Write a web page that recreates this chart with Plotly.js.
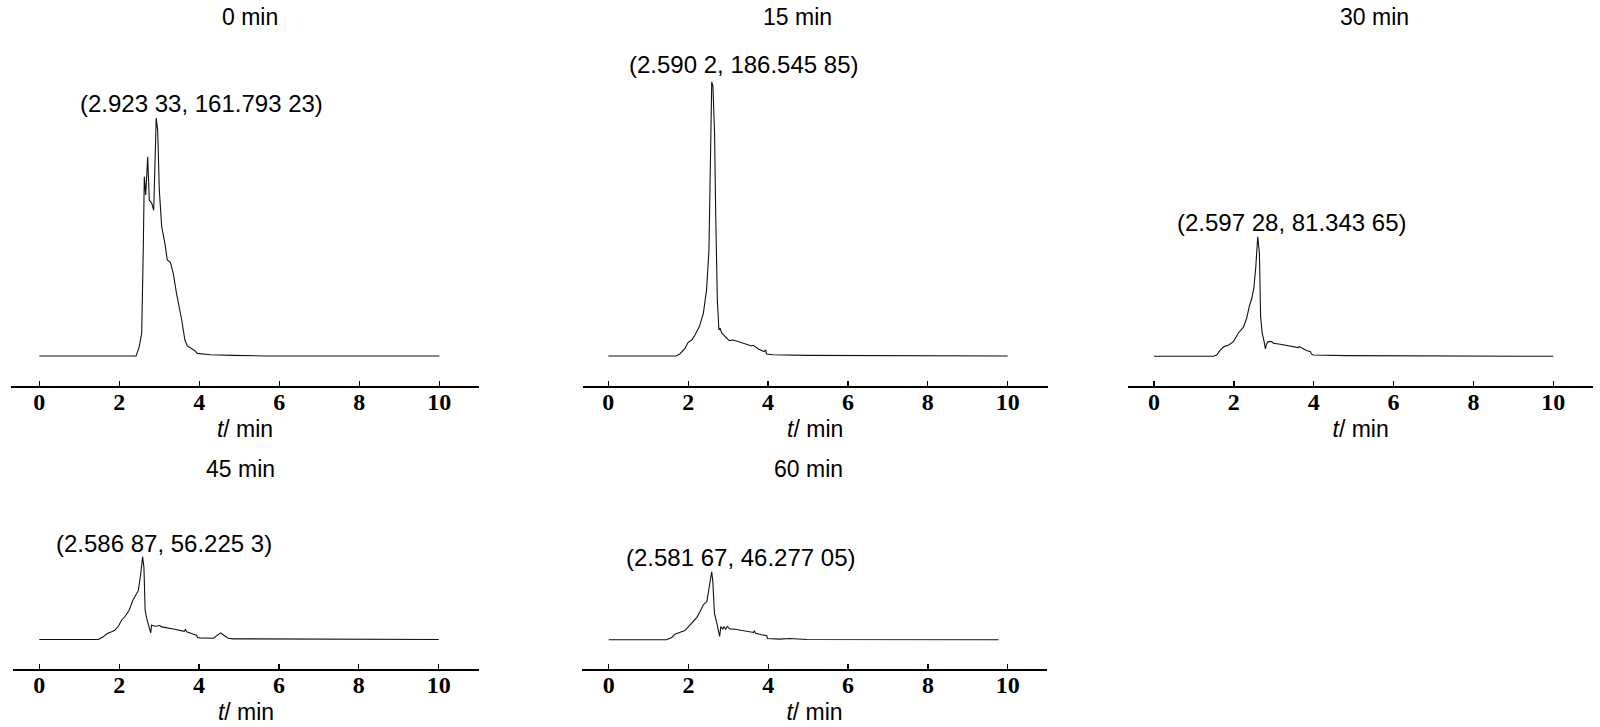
<!DOCTYPE html>
<html>
<head>
<meta charset="utf-8">
<script src="https://cdn.plot.ly/plotly-3.0.1.min.js"></script>
<style>html,body{margin:0;padding:0;background:#fff;}#chart{width:1600px;height:727px;}</style>
</head>
<body>
<div id="chart"></div>
<script>
// ---- data (retention time in min, detector response) ----
const panelTitles = ["0 min", "15 min", "30 min", "45 min", "60 min"];
const peakLabels = ["(2.923 33, 161.793 23)", "(2.590 2, 186.545 85)", "(2.597 28, 81.343 65)", "(2.586 87, 56.225 3)", "(2.581 67, 46.277 05)"];
const tickValues = [0, 2, 4, 6, 8, 10];

const t0 = [0, 2.42, 2.5, 2.56, 2.6, 2.625, 2.66, 2.71, 2.75, 2.81, 2.86, 2.923, 2.96, 3.0, 3.06, 3.14, 3.2, 3.28, 3.35, 3.43, 3.56, 3.64, 3.7, 3.81, 3.89, 3.95, 4.27, 4.85, 5.68, 10];
const y0 = [0, 0, 6.6, 15.4, 74, 122, 109.5, 135.6, 106, 104, 99, 161.8, 153.7, 113, 88, 76.6, 65.3, 63.5, 56, 42.6, 24.5, 10.9, 6.8, 5.2, 3.6, 1.8, 0.9, 0.45, 0, 0];

const t15 = [0, 1.69, 1.79, 1.92, 2.0, 2.09, 2.17, 2.28, 2.38, 2.46, 2.52, 2.56, 2.59, 2.62, 2.66, 2.69, 2.73, 2.77, 2.80, 2.84, 2.92, 3.01, 3.03, 3.13, 3.30, 3.46, 3.59, 3.63, 3.76, 3.90, 3.94, 3.96, 4.13, 4.97, 10];
const y15 = [0, 0, 1.4, 5.2, 9.3, 10.9, 14.3, 20, 29, 45, 72, 154, 186.5, 183.6, 151.8, 95, 38, 17.7, 18.9, 15.5, 13.6, 11.4, 10.5, 10.9, 9.5, 8, 6.8, 7.3, 4.8, 3, 4.1, 1.4, 0.9, 0.45, 0];

const t30 = [0, 1.49, 1.57, 1.65, 1.75, 1.86, 1.99, 2.11, 2.24, 2.32, 2.39, 2.45, 2.50, 2.55, 2.597, 2.64, 2.67, 2.71, 2.75, 2.79, 2.82, 2.86, 2.95, 2.99, 3.16, 3.32, 3.49, 3.61, 3.64, 3.82, 3.92, 3.94, 3.99, 4.82, 10];
const y30 = [0, 0, 0.9, 3.9, 6.6, 7.5, 10, 15.7, 19.8, 25.9, 34.3, 39.5, 46.4, 61, 81.3, 70, 27, 15.7, 11, 5, 8.4, 10, 10, 8.9, 8.2, 7.3, 6.4, 5.9, 6.6, 3.9, 3.2, 1.6, 0.9, 0.45, 0];

const t45 = [0, 1.48, 1.60, 1.70, 1.81, 1.89, 1.98, 2.06, 2.15, 2.25, 2.34, 2.42, 2.48, 2.54, 2.587, 2.62, 2.65, 2.70, 2.75, 2.79, 2.81, 2.90, 3.02, 3.06, 3.36, 3.63, 3.66, 3.69, 3.86, 3.94, 3.96, 4.02, 4.36, 4.46, 4.54, 4.62, 4.73, 4.86, 10];
const y45 = [0, 0, 1.8, 4.1, 5.2, 6.3, 9, 13.1, 15.8, 19.9, 26.6, 30, 33.4, 44.7, 56.2, 49, 19.9, 13.1, 9, 4.5, 9.7, 9, 9.5, 8.6, 7.2, 5.6, 6.8, 5.2, 3.6, 2.9, 1.4, 1.1, 0.9, 2.9, 4.5, 2.9, 0.9, 0.45, 0];

const t60 = [0, 1.45, 1.58, 1.66, 1.79, 1.91, 2.0, 2.08, 2.21, 2.29, 2.37, 2.46, 2.51, 2.56, 2.582, 2.61, 2.65, 2.71, 2.75, 2.78, 2.81, 2.86, 2.89, 2.93, 2.97, 3.04, 3.17, 3.33, 3.50, 3.63, 3.65, 3.68, 3.83, 3.96, 3.98, 4.29, 4.54, 4.71, 4.96, 9.77];
const y60 = [0, 0, 1.6, 3.8, 5.2, 6.3, 9, 11.7, 15.3, 19.2, 23.7, 26, 35, 45.1, 46.3, 39.5, 18, 11.3, 7.2, 2.3, 9, 7.4, 9, 7.2, 9, 7.4, 7.2, 6.3, 5.4, 5, 6.1, 4.5, 3.4, 2.7, 0.9, 0.45, 0.9, 0.7, 0.2, 0];

const seriesT = [t0, t15, t30, t45, t60];
const seriesY = [y0, y15, y30, y45, y60];

// ---- layout geometry (pixels) ----
const W = 1600, H = 727;
const panels = [
  {xl: 11,    xr: 479,    tick0: 39.3,  ppu: 40.0,  axisY: 385.7, topY: 40,  baseY: 356.0, titleX: 249.5, titleY: 16.5, lab: [4.06, 171.9]},
  {xl: 582.7, xr: 1047.7, tick0: 608.3, ppu: 39.94, axisY: 385.7, topY: 40,  baseY: 356.0, titleX: 797,   titleY: 16.5, lab: [3.39, 198.2]},
  {xl: 1128.3,xr: 1593,   tick0: 1154,  ppu: 39.93, axisY: 385.7, topY: 40,  baseY: 356.3, titleX: 1374,  titleY: 16.5, lab: [3.45, 91.1]},
  {xl: 13,    xr: 479,    tick0: 39.3,  ppu: 39.94, axisY: 669.0, topY: 480, baseY: 639.5, titleX: 240,   titleY: 469,  lab: [3.12, 65.6]},
  {xl: 582,   xr: 1047,   tick0: 608.7, ppu: 39.9,  axisY: 669.0, topY: 480, baseY: 639.8, titleX: 808,   titleY: 469,  lab: [3.32, 55.9]}
];
const yppu = 1.47;

const traces = [];
const layout = {
  width: W, height: H,
  margin: {l: 0, r: 0, t: 0, b: 0},
  paper_bgcolor: '#fff', plot_bgcolor: '#fff',
  showlegend: false,
  font: {family: 'Liberation Sans, Arial, sans-serif', color: '#000', size: 23},
  annotations: []
};

panels.forEach((p, i) => {
  const n = i + 1;
  const xa = 'xaxis' + (n === 1 ? '' : n), ya = 'yaxis' + (n === 1 ? '' : n);
  const xr = 'x' + (n === 1 ? '' : n), yr = 'y' + (n === 1 ? '' : n);
  traces.push({
    x: seriesT[i], y: seriesY[i], xaxis: xr, yaxis: yr,
    type: 'scatter', mode: 'lines',
    line: {color: '#111', width: 1.1, shape: 'linear'},
    hoverinfo: 'x+y'
  });
  layout[xa] = {
    domain: [p.xl / W, p.xr / W],
    range: [(p.xl - p.tick0) / p.ppu, (p.xr - p.tick0) / p.ppu],
    anchor: yr,
    showline: true, linecolor: '#000', linewidth: 2.2,
    ticks: 'inside', ticklen: 5, tickwidth: 1.3, tickcolor: '#000',
    tickmode: 'array', tickvals: tickValues, ticktext: tickValues.map(String),
    tickfont: {family: 'Liberation Serif, Times New Roman, serif', size: 24, weight: 'bold', color: '#000'},
    ticklabelstandoff: -7,
    showgrid: false, zeroline: false,
    title: {text: '<i>t</i>/ min', font: {family: 'Liberation Sans, Arial, sans-serif', size: 23, color: '#000'}, standoff: 7},
    automargin: false, fixedrange: true
  };
  layout[ya] = {
    domain: [1 - p.axisY / H, 1 - p.topY / H],
    range: [-(p.axisY - p.baseY) / yppu, (p.baseY - p.topY) / yppu],
    anchor: xr,
    visible: false, showgrid: false, zeroline: false, fixedrange: true
  };
  layout.annotations.push({
    xref: 'paper', yref: 'paper', x: p.titleX / W, y: 1 - p.titleY / H,
    xanchor: 'center', yanchor: 'middle', showarrow: false,
    text: panelTitles[i], font: {size: 23, family: 'Liberation Sans, Arial, sans-serif', color: '#000'}
  });
  layout.annotations.push({
    xref: xr, yref: yr, x: p.lab[0], y: p.lab[1],
    xanchor: 'center', yanchor: 'middle', showarrow: false,
    text: peakLabels[i], font: {size: 24, family: 'Liberation Sans, Arial, sans-serif', color: '#000'}
  });
});

Plotly.newPlot('chart', traces, layout, {displayModeBar: false, staticPlot: true});
</script>
</body>
</html>
